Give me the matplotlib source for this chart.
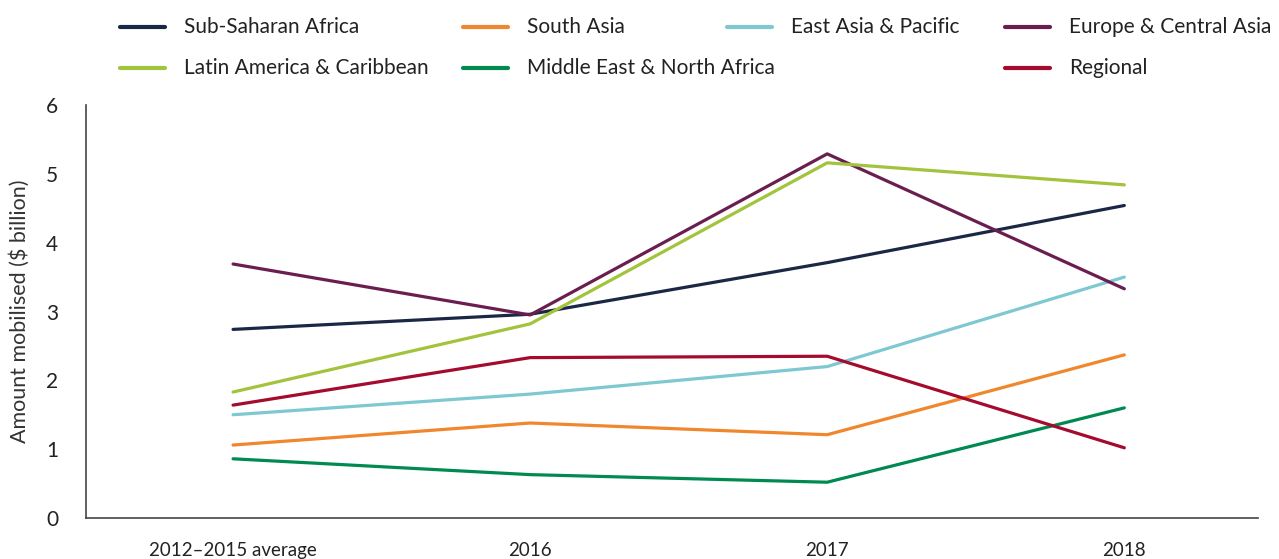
import matplotlib
matplotlib.use("Agg")
import matplotlib.pyplot as plt
from matplotlib.lines import Line2D

plt.rcParams['font.family'] = ['Lato', 'DejaVu Sans']

# data
periods = ['2012–2015 average', '2016', '2017', '2018']
sub_saharan = [2.74, 2.96, 3.71, 4.54]
south_asia = [1.06, 1.38, 1.21, 2.37]
east_asia = [1.50, 1.80, 2.20, 3.50]
europe_ca = [3.69, 2.95, 5.29, 3.33]
latin_am = [1.83, 2.82, 5.16, 4.84]
mena = [0.86, 0.63, 0.52, 1.60]
regional = [1.64, 2.33, 2.35, 1.02]

series = [
    ('Sub-Saharan Africa', sub_saharan, '#1b2845'),
    ('South Asia', south_asia, '#f0872d'),
    ('East Asia & Pacific', east_asia, '#7ec8d1'),
    ('Europe & Central Asia', europe_ca, '#6a1e50'),
    ('Latin America & Caribbean', latin_am, '#a2c33c'),
    ('Middle East & North Africa', mena, '#008a4f'),
    ('Regional', regional, '#a50b2e'),
]

fig = plt.figure(figsize=(12.79, 5.59), dpi=100)
ax = fig.add_axes([86 / 1279, 41 / 559, (1258 - 86) / 1279, (518 - 105) / 559])

x = list(range(len(periods)))
for name, vals, col in series:
    ax.plot(x, vals, color=col, linewidth=2.3, solid_capstyle='round')

ax.set_xlim(-0.495, 3.45)
ax.set_ylim(0, 6)
ax.set_xticks(x)
ax.set_xticklabels(periods, fontsize=13.5, color='#222222')
ax.set_yticks(range(7))
ax.set_yticklabels([str(v) for v in range(7)], fontsize=15, color='#222222')
ax.tick_params(axis='both', length=0)
ax.tick_params(axis='x', pad=17)
ax.tick_params(axis='y', pad=20)
for s in ['top', 'right']:
    ax.spines[s].set_visible(False)
for s in ['left', 'bottom']:
    ax.spines[s].set_color('#444444')
    ax.spines[s].set_linewidth(1.2)
ax.set_ylabel('Amount mobilised ($ billion)', fontsize=15.5, color='#333333', labelpad=12)

# legend laid out by hand like the original (uneven columns)
legend_pos = [(120, 27), (463, 27), (727, 27), (1005, 27),
              (120, 68), (463, 68), (1005, 68)]
W, H = 1279, 559
for (name, vals, col), (px, py) in zip(series, legend_pos):
    fy = 1 - py / H
    fig.add_artist(Line2D([px / W, (px + 45) / W], [fy, fy], color=col,
                          linewidth=3, solid_capstyle='round', transform=fig.transFigure))
    fig.text((px + 64) / W, fy, name, fontsize=15, color='#222222', va='center', ha='left')

fig.savefig('out.png', dpi=100)
